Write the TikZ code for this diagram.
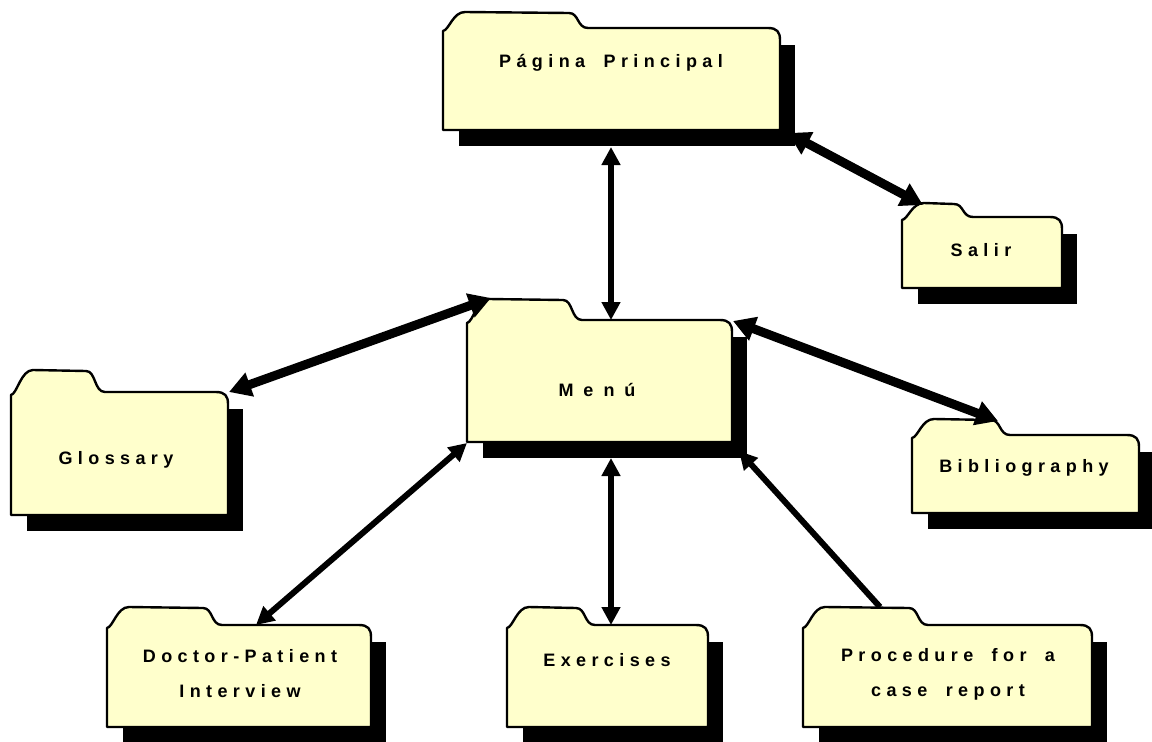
\documentclass[tikz,border=0pt]{standalone}
\usepackage{fontspec}
\setmainfont{Liberation Sans}
\newfontfamily\labfont{Liberation Sans}[LetterSpace=30]
\usetikzlibrary{arrows.meta}
\definecolor{folderfill}{HTML}{FFFFCC}
\newcommand\wsp{\hspace{8pt}}
\tikzset{
  folderbody/.style={draw=black, line width=2.4pt, fill=folderfill, line join=round},
  foldershadow/.style={fill=black},
  lab/.style={font=\labfont\bfseries\fontsize{18}{35}\selectfont, align=center, inner sep=0pt, text=black},
  thinlink/.style={line width=6pt, {Triangle[length=18pt,width=18pt]}-{Triangle[length=18pt,width=18pt]}},
  thicklink/.style={line width=9pt, {Triangle[length=22pt,width=24pt]}-{Triangle[length=22pt,width=24pt]}},
  onelink/.style={line width=6pt, -{Triangle[length=18pt,width=18pt]}}
}
% #1 L, #2 R, #3 T (tab top), #4 B (body top), #5 Bt (bottom), #6 D (tab dip)
\newcommand\myfolder[6]{%
  \fill[foldershadow] ({#1+16},{#4+17}) rectangle ({#2+15},{#5+16});
  \draw[folderbody] (#1,#5) -- (#1,{#4+3})
    .. controls ({#1+6},{#4+2}) and ({#1+10},#3) .. ({#1+22},#3)
    -- ({#6-14},{#3+1})
    .. controls ({#6-4},{#3+1}) and ({#6-6},#4) .. ({#6+5},#4)
    -- ({#2-12},#4)
    .. controls ({#2-3},#4) and (#2,{#4+4}) .. (#2,{#4+12})
    -- (#2,#5) -- cycle;
}
\begin{document}
\begin{tikzpicture}[x=1pt,y=-1pt]
\useasboundingbox (0,0) rectangle (1152,742);
% folders
\myfolder{443}{780}{12}{28}{130}{583}
\myfolder{902}{1062}{203}{217}{288}{968}
\myfolder{467}{732}{299}{320}{442}{577}
\myfolder{11}{228}{370}{392}{515}{100}
\myfolder{912}{1139}{419}{435}{513}{1005}
\myfolder{107}{371}{607}{625}{727}{217}
\myfolder{507}{708}{607}{625}{727}{590}
\myfolder{803}{1092}{607}{625}{727}{923}
% labels
\node[lab] (pag) at (611,63) {Página\wsp{} Principal};
\node[lab] (salir) at (981,250) {Salir};
\node[lab] (menu) at (597,390) {M\hspace{10pt}e\hspace{10pt}n\hspace{10pt}ú};
\node[lab] (glos) at (116,460) {Glossary};
\node[lab] (bib) at (1024,468) {Bibliography};
\node[lab] (doc) at (240,674) {Doctor-Patient\\Interview};
\node[lab] (exe) at (607,660) {Exercises};
\node[lab] (proc) at (948,674) {Procedure\wsp{} for\wsp{} a\\case\wsp{} report};
% connector end points
\coordinate (pag-s) at (611,147);
\coordinate (menu-n) at (611,320);
\coordinate (pag-e) at (788,133);
\coordinate (salir-nw) at (923,205);
\coordinate (menu-nw) at (491,298);
\coordinate (glos-ne) at (229,392);
\coordinate (menu-ne) at (733,321);
\coordinate (bib-n) at (998,421);
\coordinate (menu-sw) at (467,443);
\coordinate (doc-n) at (256,625);
\coordinate (menu-s) at (611,458);
\coordinate (exe-n) at (611,625);
\coordinate (menu-se) at (739,451);
\coordinate (proc-n) at (880,607);
% connectors
\draw[thinlink] (pag-s) -- (menu-n);
\draw[thicklink] (pag-e) -- (salir-nw);
\draw[thicklink] (menu-nw) -- (glos-ne);
\draw[thicklink] (menu-ne) -- (bib-n);
\draw[thinlink] (menu-sw) -- (doc-n);
\draw[thinlink] (menu-s) -- (exe-n);
\draw[onelink] (proc-n) -- (menu-se);
\end{tikzpicture}
\end{document}
